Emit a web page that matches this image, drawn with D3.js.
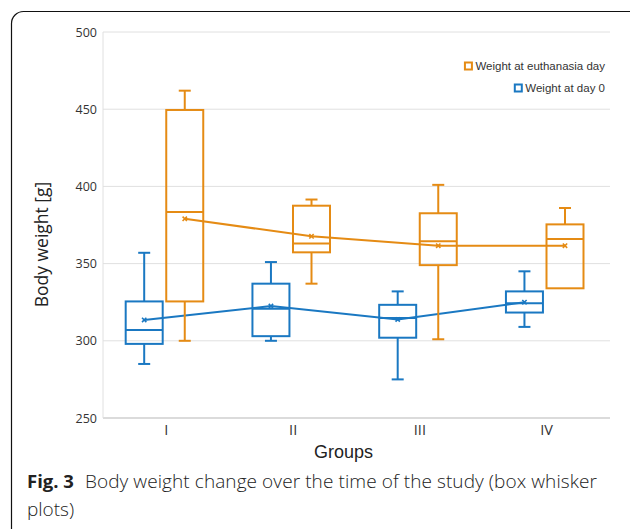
<!DOCTYPE html>
<html>
<head>
<meta charset="utf-8">
<script src="https://cdn.jsdelivr.net/npm/d3@7"></script>
<style>
  body { margin: 0; background: #fff; }
  svg { display: block; }
</style>
</head>
<body>
<figure id="box" style="margin:0"></figure>
<script>
// Data
const groups = ["I", "II", "III", "IV"];
const yTicks = [250, 300, 350, 400, 450, 500];

// [min, q1, median, q3, max, mean]
const day0 = [
  [285, 298, 307, 325.5, 357, 313.5],
  [300, 303, 320.7, 337, 351, 322.5],
  [275, 302, 314.7, 323.3, 332, 313.8],
  [309, 318.3, 324.4, 332, 345, 325]
];
const euthanasia = [
  [300, 325.5, 383.5, 449.5, 462, 379],
  [337, 357.3, 363, 387.5, 391.5, 367.7],
  [301, 349, 364.4, 382.6, 401, 361.6],
  [334, 334, 366, 375.4, 386, 361.6]
];

const seriesNames = ["Weight at euthanasia day", "Weight at day 0"];
const colors = { day0: "#1a78c2", euth: "#e58b14" };

const W = 630, H = 529;
const margin = { left: 103, right: 20, top: 32, bottom: 111 };
const width = W - margin.left - margin.right;
const height = H - margin.top - margin.bottom;

const svg = d3.select("figure#box").append("svg")
  .attr("width", W).attr("height", H);

// rounded frame
svg.append("rect")
  .attr("x", 11.5).attr("y", 11.5)
  .attr("width", 640).attr("height", 540)
  .attr("rx", 12)
  .attr("fill", "none").attr("stroke", "#111").attr("stroke-width", 1.2);

const g = svg.append("g")
  .attr("transform", "translate(" + margin.left + "," + margin.top + ")");

const x = d3.scaleBand().domain(groups).range([0, width]).padding(0);
const y = d3.scaleLinear().domain([250, 500]).range([height, 0]);

// gridlines
g.append("g")
  .selectAll("line")
  .data(yTicks)
  .enter().append("line")
  .attr("x1", 0).attr("x2", width)
  .attr("y1", d => y(d)).attr("y2", d => y(d))
  .attr("stroke", d => d === 250 ? "#cfcfcf" : "#e0e0e0")
  .attr("stroke-width", d => d === 250 ? 1.5 : 1);

g.append("line")
  .attr("x1", 0).attr("x2", 0).attr("y1", 0).attr("y2", height)
  .attr("stroke", "#e0e0e0");

// y axis labels
const yAxis = g.append("g")
  .call(d3.axisLeft(y).tickValues(yTicks).tickSize(0).tickPadding(6));
yAxis.select(".domain").remove();
yAxis.selectAll("text")
  .attr("font-family", "Open Sans").attr("font-size", 12.5).attr("fill", "#333");

// x axis labels
const xAxis = g.append("g")
  .attr("transform", "translate(0," + height + ")")
  .call(d3.axisBottom(x).tickSize(0).tickPadding(7));
xAxis.select(".domain").remove();
xAxis.selectAll("text")
  .attr("font-family", "Open Sans").attr("font-size", 14.5).attr("fill", "#333");

// axis titles
g.append("text")
  .attr("transform", "translate(-55," + (height / 2 + 19.5) + ")rotate(-90)")
  .attr("text-anchor", "middle")
  .attr("font-family", "Open Sans").attr("font-size", 17.5).attr("fill", "#222")
  .text("Body weight [g]");

g.append("text")
  .attr("x", x("III") - 13).attr("y", height + 40)
  .attr("text-anchor", "middle")
  .attr("font-family", "Liberation Sans").attr("font-size", 18).attr("fill", "#222")
  .text("Groups");

const boxW = 37;
const offsets = { day0: 0.325, euth: 0.645 };

function drawSeries(data, key) {
  const col = colors[key];
  const cx = (d, i) => x(groups[i]) + x.bandwidth() * offsets[key];
  const s = g.append("g").attr("stroke", col).attr("stroke-width", 2).attr("fill", "none");

  data.forEach((d, i) => {
    const c = cx(d, i);
    const [mn, q1, med, q3, mx] = d;
    // whiskers
    s.append("line").attr("x1", c).attr("x2", c).attr("y1", y(q3)).attr("y2", y(mx));
    s.append("line").attr("x1", c).attr("x2", c).attr("y1", y(q1)).attr("y2", y(mn));
    s.append("line").attr("x1", c - 6).attr("x2", c + 6).attr("y1", y(mx)).attr("y2", y(mx));
    if (mn < q1) s.append("line").attr("x1", c - 6).attr("x2", c + 6).attr("y1", y(mn)).attr("y2", y(mn));
    // box
    s.append("rect")
      .attr("x", c - boxW / 2).attr("y", y(q3))
      .attr("width", boxW).attr("height", y(q1) - y(q3));
    s.append("line").attr("x1", c - boxW / 2).attr("x2", c + boxW / 2)
      .attr("y1", y(med)).attr("y2", y(med));
  });

  // mean line
  const line = d3.line().x((d, i) => cx(d, i)).y(d => y(d[5]));
  s.append("path").datum(data).attr("d", line);

  // mean markers
  s.selectAll("path.mk")
    .data(data).enter().append("path")
    .attr("class", "mk")
    .attr("d", d3.symbol(d3.symbolX, 14))
    .attr("transform", (d, i) => "translate(" + cx(d, i) + "," + y(d[5]) + ")")
    .attr("stroke-width", 1.6);
}

drawSeries(day0, "day0");
drawSeries(euthanasia, "euth");

// legend
const legend = svg.append("g").attr("font-family", "Liberation Sans").attr("font-size", 11.5).attr("fill", "#333");
[["euth", 66], ["day0", 88]].forEach(([key, ly], i) => {
  const t = legend.append("text")
    .attr("x", 605).attr("y", ly + 4)
    .attr("text-anchor", "end")
    .text(seriesNames[i]);
  const bb = t.node().getBBox();
  legend.append("rect")
    .attr("x", bb.x - 10.5).attr("y", ly - 3.5)
    .attr("width", 7).attr("height", 7)
    .attr("fill", "#fff").attr("stroke", colors[key]).attr("stroke-width", 2);
});

// caption
const cap = svg.append("g").attr("font-family", "Open Sans").attr("font-size", 19).attr("fill", "#222");
const l1 = cap.append("text").attr("x", 27).attr("y", 488);
l1.append("tspan").attr("font-weight", "bold").attr("font-size", 18.5).text("Fig. 3");
l1.append("tspan").attr("dx", 11).attr("font-weight", 300).attr("textLength", 512).text("Body weight change over the time of the study (box whisker");
cap.append("text").attr("x", 27).attr("y", 516).attr("font-weight", 300).text("plots)");
</script>
</body>
</html>
